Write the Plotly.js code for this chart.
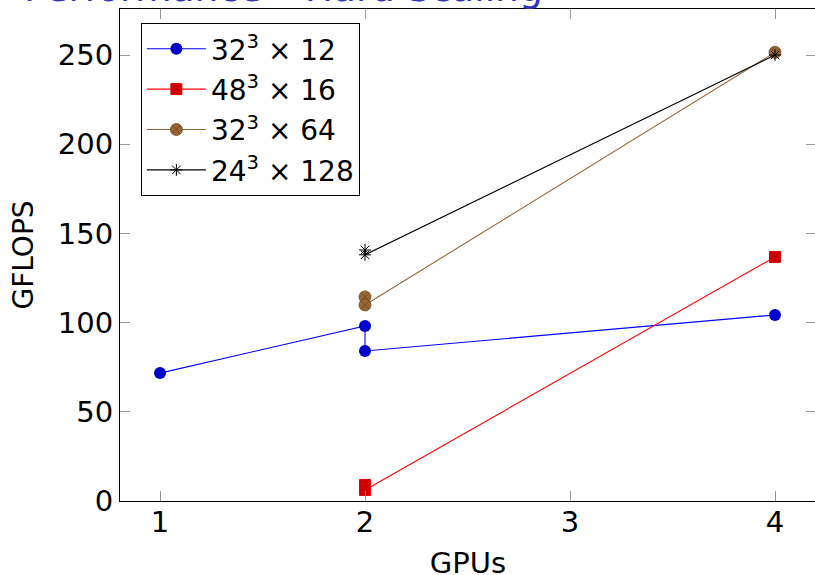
<!DOCTYPE html>
<html>
<head>
<meta charset="utf-8">
<script src="https://cdn.plot.ly/plotly-3.0.1.min.js"></script>
<style>
html,body{margin:0;padding:0;overflow:hidden;background:#fff;}
#chart{width:816px;height:580px;}
</style>
</head>
<body>
<div id="chart"></div>
<script>
// Data
const seriesNames = ["32<sup>3</sup> × 12", "48<sup>3</sup> × 16", "32<sup>3</sup> × 64", "24<sup>3</sup> × 128"];
const gpus_a = [1, 2, 2, 4];
const gflops_a = [71.7, 98.1, 84.1, 104.3];
const gpus_b = [2, 2, 4];
const gflops_b = [9.0, 6.2, 136.8];
const gpus_c = [2, 2, 4];
const gflops_c = [114.4, 109.9, 251.5];
const gpus_d = [2, 2, 4];
const gflops_d = [140.7, 138.0, 250.0];
const xTicks = [1, 2, 3, 4];
const yTicks = [0, 50, 100, 150, 200, 250];

const FONT = "DejaVu Sans, Verdana, sans-serif";

const traces = [
  {x: gpus_a, y: gflops_a, name: seriesNames[0], legendgroup: "a", mode: "lines+markers",
   line: {color: "rgb(0,0,255)", width: 1.1},
   marker: {symbol: "circle", size: 12, color: "rgb(0,0,204)", line: {width: 0}}},
  {x: gpus_b, y: gflops_b, name: seriesNames[1], legendgroup: "b", mode: "lines+markers",
   line: {color: "rgb(255,0,0)", width: 1.1},
   marker: {symbol: "square", size: 11, color: "rgb(204,0,0)", line: {width: 1, color: "rgb(230,0,0)"}}},
  {x: gpus_c, y: gflops_c, name: seriesNames[2], legendgroup: "c", mode: "lines+markers",
   line: {color: "rgb(153,102,51)", width: 1.1},
   marker: {symbol: "circle-x", size: 12, color: "rgb(153,102,51)", line: {width: 0.8, color: "rgb(110,72,36)"}}},
  {x: gpus_d, y: gflops_d, name: seriesNames[3], legendgroup: "d", mode: "lines+markers",
   line: {color: "black", width: 1.1},
   marker: {symbol: "asterisk-open", size: 10, color: "black", line: {width: 1, color: "black"}}}
];

const layout = {
  width: 816, height: 580,
  margin: {l: 120, r: 0, t: 9, b: 79, pad: 0},
  paper_bgcolor: "white", plot_bgcolor: "white",
  font: {family: FONT, size: 28, color: "black"},
  showlegend: true,
  legend: {
    x: 0.030, y: 0.9715, xanchor: "left", yanchor: "top",
    bordercolor: "black", borderwidth: 1, bgcolor: "white",
    font: {family: FONT, size: 28, color: "black"},
    tracegroupgap: 1, itemwidth: 59
  },
  xaxis: {
    range: [0.8049, 4.2], tickvals: xTicks, ticktext: xTicks.map(String),
    showgrid: false, zeroline: false,
    showline: true, linecolor: "black", linewidth: 1, mirror: "ticks",
    ticks: "inside", ticklen: 10, tickcolor: "#999", tickwidth: 1,
    ticklabelstandoff: -5,
    tickfont: {family: FONT, size: 29, color: "black"},
    title: {text: "GPUs", font: {family: FONT, size: 29, color: "black"}, standoff: 25}
  },
  yaxis: {
    range: [0, 275.8], tickvals: yTicks, ticktext: yTicks.map(String),
    showgrid: false, zeroline: false,
    showline: true, linecolor: "black", linewidth: 1, mirror: "ticks",
    ticks: "inside", ticklen: 10, tickcolor: "#999", tickwidth: 1,
    tickfont: {family: FONT, size: 29, color: "black"},
    title: {text: "GFLOPS", font: {family: FONT, size: 28, color: "black"}, standoff: 16}
  },
  annotations: [{
    text: "Performance – Hard Scaling", xref: "paper", yref: "paper",
    x: 0.6106, y: 0.994, xanchor: "right", yanchor: "bottom", showarrow: false,
    font: {family: FONT, size: 37.6, color: "rgb(51,51,191)"}
  }]
};

Plotly.newPlot("chart", traces, layout, {displayModeBar: false, staticPlot: true});
</script>
</body>
</html>
